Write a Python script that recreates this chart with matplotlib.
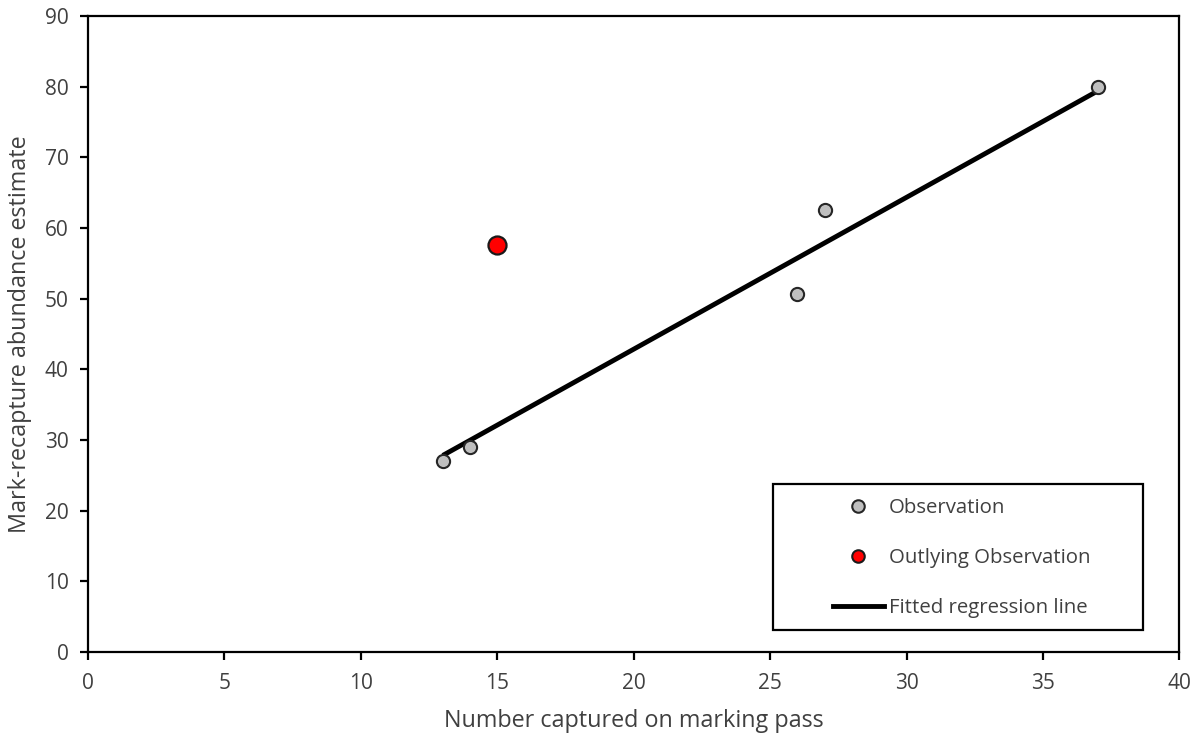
import matplotlib
matplotlib.use("Agg")
import matplotlib.pyplot as plt
from matplotlib.lines import Line2D
from matplotlib.patches import Rectangle

plt.rcParams['font.family'] = ['Open Sans', 'DejaVu Sans']

obs_x = [13, 14, 26, 27, 37]
obs_y = [27.0, 29.0, 50.7, 62.5, 80.0]
out_x = [15]
out_y = [57.6]
fit_x = [13, 37]
fit_y = [27.8, 79.4]
x_ticks = [0, 5, 10, 15, 20, 25, 30, 35, 40]
y_ticks = [0, 10, 20, 30, 40, 50, 60, 70, 80, 90]

fig = plt.figure(figsize=(11.98, 7.34), dpi=100)
ax = fig.add_axes([0.0735, 0.112, 0.911, 0.866])

ax.plot(fit_x, fit_y, color='black', lw=3.5, solid_capstyle='butt', zorder=2)
ax.plot(obs_x, obs_y, 'o', ms=9.5, mfc='#bfbfbf', mec='#262626', mew=1.5, zorder=3, ls='none')
ax.plot(out_x, out_y, 'o', ms=13, mfc='#ff0000', mec='#1a1a1a', mew=1.6, zorder=3, ls='none')

ax.set_xlim(0, 40)
ax.set_ylim(0, 90)
ax.set_xticks(x_ticks)
ax.set_yticks(y_ticks)
for s in ax.spines.values():
    s.set_linewidth(1.6)
ax.tick_params(direction='out', length=6, width=1.6, labelsize=15, colors='black', labelcolor='#404040')
ax.tick_params(axis='x', pad=9)
ax.tick_params(axis='y', pad=8)
ax.set_xlabel('Number captured on marking pass', fontsize=16.8, color='#404040', labelpad=11)
ax.set_ylabel('Mark-recapture abundance estimate', fontsize=16.8, color='#404040', labelpad=9)

# legend frame box
ax.add_patch(Rectangle((0.628, 0.0346), 0.339, 0.229, transform=ax.transAxes, fill=True,
                       facecolor='white', edgecolor='black', lw=1.6, zorder=4))

handles = [
    Line2D([], [], ls='none', marker='o', ms=9, mfc='#bfbfbf', mec='#262626', mew=1.5),
    Line2D([], [], ls='none', marker='o', ms=9, mfc='#ff0000', mec='#1a1a1a', mew=1.5),
    Line2D([], [], color='black', lw=3.5),
]
labels = ['Observation', 'Outlying Observation', 'Fitted regression line']
leg = ax.legend(handles, labels, loc='center', bbox_to_anchor=(0.8005, 0.147),
                frameon=False, fontsize=14.7, labelspacing=1.47,
                handlelength=2.5, handletextpad=0.25, borderpad=0, borderaxespad=0)
leg.set_zorder(5)
for t in leg.get_texts():
    t.set_color('#404040')

fig.savefig('out.png', dpi=100)
